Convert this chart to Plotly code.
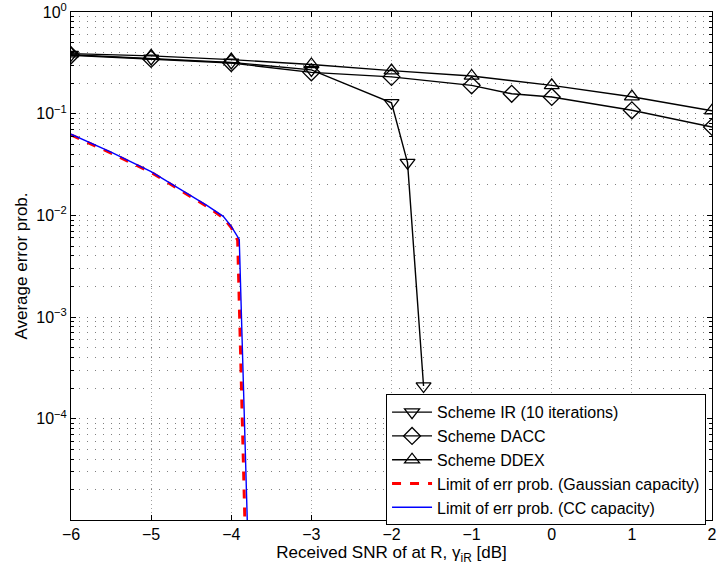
import plotly.graph_objects as go

# ---- data ----
snr_ir = [-6, -5, -4, -3, -2, -1.8, -1.6]
pe_ir = [0.38, 0.35, 0.32, 0.27, 0.128, 0.033, 0.00021]

snr_dacc = [-6, -5, -4, -3, -2, -1, -0.5, 0, 1, 2]
pe_dacc = [0.375, 0.345, 0.315, 0.255, 0.23, 0.19, 0.157, 0.146, 0.108, 0.074]

snr_ddex = [-6, -5, -4, -3, -2, -1, 0, 1, 2]
pe_ddex = [0.39, 0.37, 0.34, 0.305, 0.265, 0.235, 0.19, 0.147, 0.107]

snr_gauss = [-6, -5.5, -5, -4.5, -4.3, -4.1, -4.0, -3.92, -3.83]
pe_gauss = [0.062, 0.041, 0.0265, 0.0152, 0.0122, 0.0095, 0.0076, 0.0057, 0.00001]

snr_cc = [-6, -5.5, -5, -4.5, -4.3, -4.1, -4.0, -3.9, -3.8]
pe_cc = [0.063, 0.042, 0.027, 0.0155, 0.0125, 0.0098, 0.0078, 0.0058, 0.00001]

ytick_vals = [1, 0.1, 0.01, 0.001, 0.0001]
ytick_text = ["10<sup>0</sup>", "10<sup>\u22121</sup>", "10<sup>\u22122</sup>",
              "10<sup>\u22123</sup>", "10<sup>\u22124</sup>"]
xtick_vals = [-6, -5, -4, -3, -2, -1, 0, 1, 2]

minor_vals = [k * 10.0 ** e for e in range(-5, 0) for k in range(2, 10)]

FONT = "Liberation Sans, Arial, Helvetica, sans-serif"

fig = go.Figure()
mk = dict(color="black", size=13, line=dict(color="black", width=1.3))
fig.add_trace(go.Scatter(x=snr_ir, y=pe_ir, mode="lines+markers",
                         name="Scheme IR (10 iterations)",
                         line=dict(color="black", width=1.4),
                         marker=dict(symbol="triangle-down-open", **mk)))
fig.add_trace(go.Scatter(x=snr_dacc, y=pe_dacc, mode="lines+markers",
                         name="Scheme DACC",
                         line=dict(color="black", width=1.4),
                         marker=dict(symbol="diamond-open", **mk)))
fig.add_trace(go.Scatter(x=snr_ddex, y=pe_ddex, mode="lines+markers",
                         name="Scheme DDEX",
                         line=dict(color="black", width=1.4),
                         marker=dict(symbol="triangle-up-open", **mk)))
fig.add_trace(go.Scatter(x=snr_gauss, y=pe_gauss, mode="lines",
                         name="Limit of err prob. (Gaussian capacity)",
                         line=dict(color="red", width=3, dash="dash")))
fig.add_trace(go.Scatter(x=snr_cc, y=pe_cc, mode="lines",
                         name="Limit of err prob. (CC capacity)",
                         line=dict(color="blue", width=1.4)))

fig.update_xaxes(range=[-6, 2], tickmode="array", tickvals=xtick_vals,
                 ticks="inside", ticklen=5, tickcolor="black",
                 showline=True, linecolor="black", linewidth=1, mirror="ticks",
                 zeroline=False, ticklabeloverflow="allow",
                 showgrid=True, gridcolor="#a0a0a0", gridwidth=1, griddash="1px,3px",
                 title=dict(text="Received SNR of at R, \u03b3<sub>iR</sub> [dB]",
                            font=dict(size=17, color="black", family=FONT), standoff=2),
                 tickfont=dict(size=16, color="black", family=FONT))
fig.update_yaxes(type="log", range=[-4.995, 0], tickmode="array",
                 tickvals=ytick_vals, ticktext=ytick_text,
                 ticks="inside", ticklen=5, tickcolor="black",
                 showline=True, linecolor="black", linewidth=1, mirror="ticks",
                 zeroline=False, ticklabeloverflow="allow",
                 showgrid=True, gridcolor="#707070", gridwidth=1, griddash="1px,7px",
                 minor=dict(tickmode="array", tickvals=minor_vals, ticks="inside",
                            ticklen=3, tickcolor="black", showgrid=True,
                            gridcolor="#808080", griddash="1px,7px", gridwidth=1),
                 title=dict(text="Average error prob.",
                            font=dict(size=17, color="black", family=FONT), standoff=4),
                 tickfont=dict(size=16, color="black", family=FONT))

fig.update_layout(
    width=718, height=574,
    margin=dict(l=71, r=1, t=11, b=54),
    paper_bgcolor="white", plot_bgcolor="white",
    font=dict(family=FONT, size=16, color="black"),
    showlegend=True,
    legend=dict(x=0.9907, y=0.2476, xanchor="right", yanchor="top",
                bgcolor="white", bordercolor="black", borderwidth=1,
                font=dict(size=16, color="black", family=FONT),
                tracegroupgap=0, itemwidth=40),
)

fig.write_html("out.html")
